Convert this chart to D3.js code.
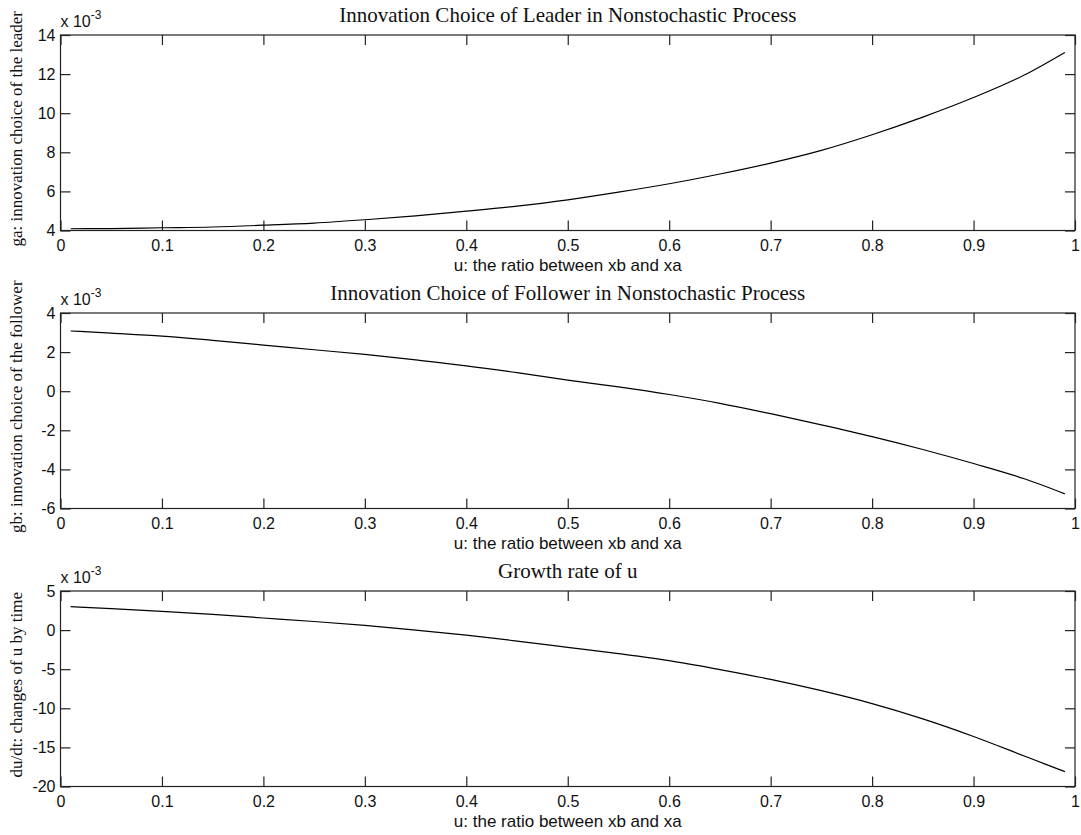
<!DOCTYPE html>
<html>
<head>
<meta charset="utf-8">
<script src="https://cdn.jsdelivr.net/npm/d3@7"></script>
<style>
  html, body { margin: 0; padding: 0; background: #fff; }
  svg { display: block; }
</style>
</head>
<body>
<div id="chart"></div>
<script>
// values, in units of 1e-3
var u = [0.01, 0.05, 0.1, 0.15, 0.2, 0.25, 0.3, 0.35, 0.4, 0.45, 0.5,
         0.55, 0.6, 0.65, 0.7, 0.75, 0.8, 0.85, 0.9, 0.95, 0.99];
var leaderChoice = [4.09, 4.10, 4.14, 4.18, 4.27, 4.38, 4.55, 4.75, 4.99, 5.25, 5.57,
                    5.96, 6.39, 6.89, 7.45, 8.10, 8.90, 9.80, 10.80, 11.95, 13.11];
var followerChoice = [3.08, 2.97, 2.82, 2.60, 2.36, 2.12, 1.88, 1.60, 1.30, 0.95, 0.57,
                      0.22, -0.17, -0.62, -1.15, -1.72, -2.32, -2.98, -3.70, -4.48, -5.25];
var growthRate = [3.0, 2.75, 2.4, 2.0, 1.55, 1.1, 0.6, 0.0, -0.65, -1.4, -2.2,
                  -3.0, -3.9, -5.05, -6.3, -7.75, -9.4, -11.35, -13.6, -16.1, -18.1];

var xTicks = [0, 0.1, 0.2, 0.3, 0.4, 0.5, 0.6, 0.7, 0.8, 0.9, 1];
var titles = ["Innovation Choice of Leader in Nonstochastic Process",
              "Innovation Choice of Follower in Nonstochastic Process",
              "Growth rate of u"];
var yLabels = ["ga: innovation choice of the leader",
               "gb: innovation choice of the follower",
               "du/dt: changes of u by time"];
var xLabel = "u: the ratio between xb and xa";
var yDomains = [[4, 14], [-6, 4], [-20, 5]];
var yTicks = [[4, 6, 8, 10, 12, 14], [-6, -4, -2, 0, 2, 4], [-20, -15, -10, -5, 0, 5]];
var series = [leaderChoice, followerChoice, growthRate];

var W = 1081, H = 835;
var left = 60.5, right = 1075;
var tops = [35, 313, 591];
var plotH = 195.5;
var tickLen = 10;
var sans = "'Liberation Sans', Arial, sans-serif";
var serif = "'Liberation Serif', 'Times New Roman', serif";
var plain = function(d) { return String(d); };  // hyphen minus, like the original

var svg = d3.select("#chart").append("svg")
  .attr("width", W).attr("height", H);
svg.append("rect").attr("width", W).attr("height", H).attr("fill", "#fff");

var x = d3.scaleLinear().domain([0, 1]).range([left, right]);

series.forEach(function(vals, i) {
  var top = tops[i], bottom = top + plotH;
  var y = d3.scaleLinear().domain(yDomains[i]).range([bottom, top]);
  var g = svg.append("g");

  // box
  g.append("rect")
    .attr("x", left).attr("y", top)
    .attr("width", right - left).attr("height", plotH)
    .attr("fill", "none").attr("stroke", "#222").attr("stroke-width", 1.2);

  // ticks point inward on all four sides
  var xb = g.append("g").attr("transform", "translate(0," + bottom + ")")
    .call(d3.axisBottom(x).tickValues(xTicks).tickSizeInner(-tickLen).tickSizeOuter(0)
      .tickPadding(9).tickFormat(plain));
  var xt = g.append("g").attr("transform", "translate(0," + top + ")")
    .call(d3.axisTop(x).tickValues(xTicks).tickSizeInner(-tickLen).tickSizeOuter(0)
      .tickFormat(""));
  var yl = g.append("g").attr("transform", "translate(" + left + ",0)")
    .call(d3.axisLeft(y).tickValues(yTicks[i]).tickSizeInner(-tickLen).tickSizeOuter(0)
      .tickPadding(5).tickFormat(plain));
  var yr = g.append("g").attr("transform", "translate(" + right + ",0)")
    .call(d3.axisRight(y).tickValues(yTicks[i]).tickSizeInner(-tickLen).tickSizeOuter(0)
      .tickFormat(""));
  [xb, xt, yl, yr].forEach(function(a) {
    a.select(".domain").remove();
    a.selectAll("line").attr("stroke", "#222").attr("stroke-width", 1.2);
    a.selectAll("text").attr("fill", "#111")
      .style("font-family", sans).style("font-size", "16px");
  });

  // exponent marker
  var ex = g.append("text")
    .attr("x", left).attr("y", top - 8)
    .style("font-family", sans).style("font-size", "16px")
    .attr("fill", "#111");
  ex.append("tspan").text("x 10");
  ex.append("tspan").attr("dy", -8).style("font-size", "12px").text("-3");

  // curve
  g.append("path")
    .datum(u.map(function(d, k) { return [d, vals[k]]; }))
    .attr("fill", "none").attr("stroke", "#000").attr("stroke-width", 1.2)
    .attr("d", d3.line().x(function(d) { return x(d[0]); }).y(function(d) { return y(d[1]); })
      .curve(d3.curveMonotoneX));

  // title
  g.append("text")
    .attr("x", (left + right) / 2).attr("y", top - 13)
    .attr("text-anchor", "middle")
    .style("font-family", serif).style("font-size", "21px")
    .attr("fill", "#111")
    .text(titles[i]);

  // x label
  g.append("text")
    .attr("x", (left + right) / 2).attr("y", bottom + 40)
    .attr("text-anchor", "middle")
    .style("font-family", sans).style("font-size", "17px")
    .attr("fill", "#111")
    .text(xLabel);

  // y label
  g.append("text")
    .attr("transform", "translate(22," + (top + plotH / 2 - 4) + ")rotate(-90)")
    .attr("text-anchor", "middle")
    .style("font-family", serif).style("font-size", "17px")
    .attr("fill", "#111")
    .text(yLabels[i]);
});
</script>
</body>
</html>
